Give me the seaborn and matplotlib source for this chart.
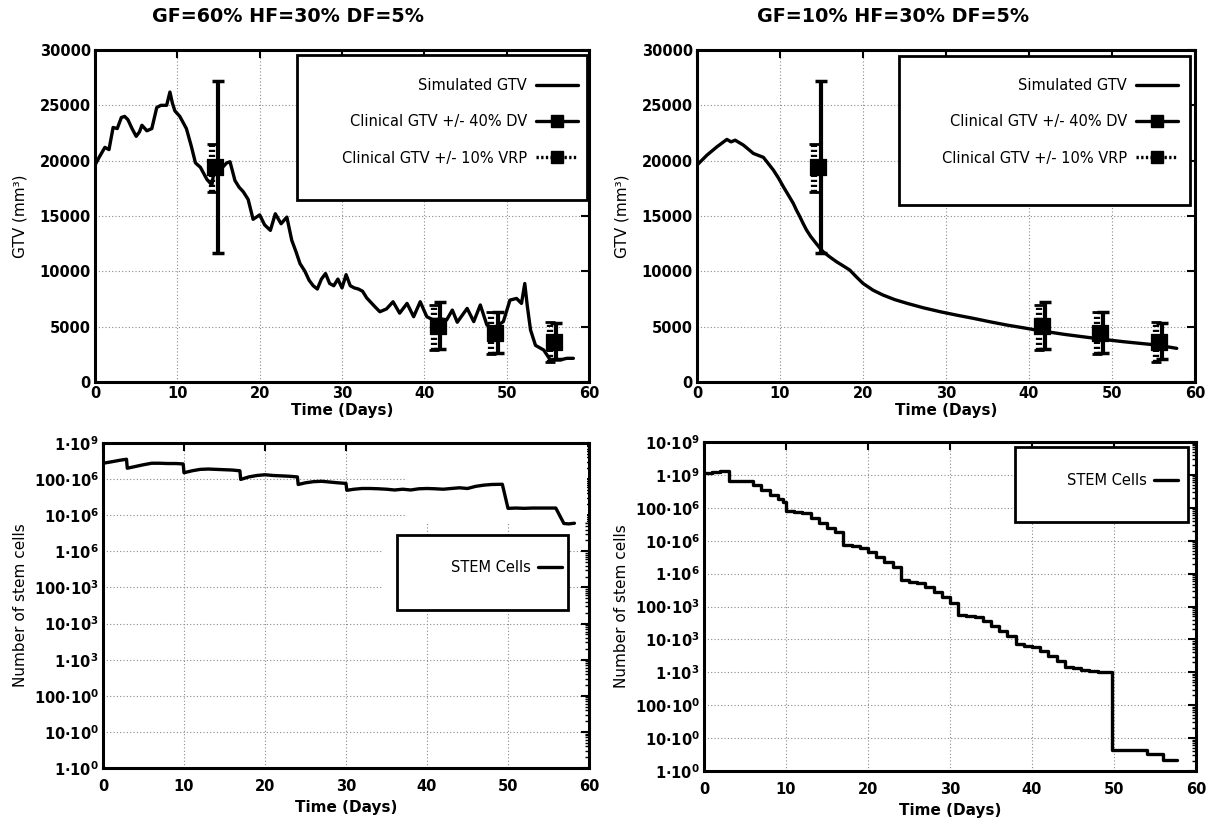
import numpy as np
import matplotlib
matplotlib.use("Agg")
import matplotlib.pyplot as plt
import seaborn as sns
from matplotlib.lines import Line2D
from matplotlib.patches import Rectangle
from matplotlib.ticker import FixedLocator, LogLocator, FuncFormatter, NullFormatter, MultipleLocator

# ---------------- data ----------------
titles = ["GF=60% HF=30% DF=5%", "GF=10% HF=30% DF=5%"]

gtv60_days = [0, 0.5, 1.2, 1.7, 2.2, 2.7, 3.2, 3.6, 4.0, 4.5, 5.0, 5.4, 5.7, 6.3, 6.9, 7.5, 8.0, 8.7,
              9.1, 9.4, 9.7, 10.3, 11.1, 11.7, 12.2, 12.8, 13.6, 14.2, 14.5, 15.0, 15.5, 16.0, 16.4,
              17.0, 17.5, 18.0, 18.6, 19.2, 20.0, 20.6, 21.3, 21.9, 22.6, 23.3, 23.9, 24.4, 24.9,
              25.5, 26.0, 26.5, 27.0, 27.5, 28.0, 28.5, 29.0, 29.5, 30.0, 30.5, 31.0, 31.5, 32.0,
              32.5, 33.0, 33.5, 34.0, 34.6, 35.4, 36.2, 37.0, 37.9, 38.7, 39.5, 40.3, 41.1, 42.0,
              42.7, 43.4, 44.0, 45.2, 46.0, 46.8, 47.6, 48.4, 49.6, 50.4, 51.2, 51.8, 52.2, 52.5,
              52.9, 53.5, 54.5, 55.3, 56.5, 57.3, 58.1]
gtv60_vals = [19600, 20300, 21200, 21000, 23000, 22900, 23900, 24000, 23700, 22900, 22200, 22600,
              23200, 22700, 22900, 24800, 25000, 25000, 26200, 25200, 24500, 24000, 22900, 21300,
              19800, 19400, 18300, 17800, 19300, 19500, 19400, 19800, 19900, 18200, 17600, 17200,
              16500, 14700, 15100, 14200, 13700, 15200, 14300, 14900, 12800, 11800, 10700, 10000,
              9200, 8700, 8400, 9300, 9800, 8900, 8700, 9300, 8500, 9700, 8700, 8500, 8400, 8200,
              7600, 7200, 6800, 6350, 6600, 7250, 6220, 7100, 5900, 7250, 5900, 5600, 5700, 5600,
              6500, 5400, 6650, 5460, 6960, 5150, 4850, 5460, 7400, 7550, 7100, 8900, 6900, 4700,
              3310, 2890, 1990, 1990, 2140, 2140]

gtv10_days = [0, 1.2, 2.4, 3.6, 4.1, 4.6, 5.6, 6.8, 8.0, 9.2, 9.8, 10.4, 11.0, 11.6, 12.0, 12.4,
              12.8, 13.2, 13.7, 14.2, 14.7, 15.2, 16.0, 16.8, 17.6, 18.4, 19.2, 20.0, 21.2, 22.4,
              23.8, 25.3, 27.3, 29.3, 31.3, 33.3, 35.3, 37.3, 39.3, 41.3, 44.3, 47.3, 49.3, 51.4,
              53.4, 55.4, 57.8]
gtv10_vals = [19600, 20500, 21250, 21920, 21700, 21850, 21400, 20650, 20300, 19150, 18450, 17650,
              16900, 16140, 15500, 14930, 14300, 13730, 13150, 12670, 12200, 11770, 11300, 10870,
              10500, 10120, 9500, 8910, 8300, 7860, 7450, 7110, 6700, 6350, 6040, 5750, 5440, 5150,
              4900, 4640, 4300, 4010, 3820, 3640, 3490, 3340, 3040]

clin_days = [14.6, 41.6, 48.6, 55.7]
clin_vals = [19400, 5100, 4400, 3650]
dv_low = [11700, 3000, 2600, 2100]
dv_high = [27200, 7200, 6300, 5300]
vrp_low = [17200, 2900, 2500, 1800]
vrp_high = [21500, 7000, 6300, 5400]

stem60_days = [0, 1, 2, 2.9, 3.0, 4, 5, 6, 7, 8, 9, 9.9, 10.0, 11, 12, 13, 14, 15, 16, 16.9, 17.0,
               18, 19, 20, 21, 22, 23, 24.0, 24.1, 25, 26, 27, 28, 29, 30.0, 30.1, 31, 32, 33, 34,
               35, 36, 37, 38, 39, 40, 41, 42, 43, 44, 45, 46, 47, 48, 49.3, 50.0, 51, 52, 53, 54,
               55, 55.9, 56.9, 57.5, 58.2]
stem60_vals = [2.75e8, 3.0e8, 3.3e8, 3.55e8, 2.0e8, 2.24e8, 2.5e8, 2.75e8, 2.75e8, 2.7e8, 2.7e8,
               2.63e8, 1.5e8, 1.7e8, 1.86e8, 1.9e8, 1.86e8, 1.82e8, 1.78e8, 1.7e8, 9.8e7, 1.15e8,
               1.26e8, 1.32e8, 1.26e8, 1.23e8, 1.2e8, 1.15e8, 7.1e7, 7.9e7, 8.5e7, 8.7e7, 8.3e7,
               7.9e7, 7.6e7, 4.9e7, 5.25e7, 5.5e7, 5.5e7, 5.4e7, 5.25e7, 5.0e7, 5.25e7, 5.0e7,
               5.4e7, 5.5e7, 5.4e7, 5.25e7, 5.5e7, 5.75e7, 5.5e7, 6.3e7, 6.8e7, 7.1e7, 7.2e7,
               1.55e7, 1.58e7, 1.55e7, 1.58e7, 1.58e7, 1.58e7, 1.58e7, 5.9e6, 5.75e6, 6.0e6]

stem10_days = [0, 1, 2, 3, 4, 5, 6, 7, 8, 9, 9.6, 10, 11, 12, 13, 14, 15, 16, 17, 18, 19, 20, 21,
               22, 23, 24, 25, 26, 27, 28, 29, 30, 31, 32, 33, 34, 35, 36, 37, 38, 39, 40, 41, 42,
               43, 44, 45, 46, 47, 48, 49.0, 49.7, 54, 56, 57.7]
stem10_vals = [1.12e9, 1.26e9, 1.32e9, 6.6e8, 6.6e8, 6.6e8, 5.0e8, 3.55e8, 2.5e8, 1.9e8, 1.5e8,
               7.9e7, 7.4e7, 7.1e7, 5.0e7, 3.55e7, 2.5e7, 1.86e7, 7.4e6, 6.8e6, 6.0e6, 4.5e6,
               3.16e6, 2.24e6, 1.58e6, 6.3e5, 5.75e5, 5.25e5, 3.8e5, 2.7e5, 1.9e5, 1.32e5, 5.6e4,
               5.25e4, 4.8e4, 3.55e4, 2.5e4, 1.78e4, 1.26e4, 7.1e3, 6.3e3, 5.9e3, 4.5e3, 3.16e3,
               2.24e3, 1.41e3, 1.32e3, 1.2e3, 1.12e3, 1.05e3, 1.0e3, 4.5, 3.2, 2.2, 2.2]

gtv_legend = ["Simulated GTV", "Clinical GTV +/- 40% DV", "Clinical GTV +/- 10% VRP"]
stem_legend = "STEM Cells"

# ---------------- style ----------------
sns.set_theme(style="white")
plt.rcParams["font.family"] = ["DejaVu Sans"]
for key in ["text.color", "axes.labelcolor", "xtick.color", "ytick.color"]:
    plt.rcParams[key] = "black"
plt.rcParams["axes.linewidth"] = 2.2
plt.rcParams["axes.edgecolor"] = "black"

W, H = 1213, 826
fig = plt.figure(figsize=(W / 100, H / 100), dpi=100)


def px_axes(x0, y0, x1, y1):
    return fig.add_axes([x0 / W, 1 - y1 / H, (x1 - x0) / W, (y1 - y0) / H])


ax_tl = px_axes(95, 50, 589, 382)
ax_tr = px_axes(697, 50, 1195, 382)
ax_bl = px_axes(103, 443, 589, 768)
ax_br = px_axes(704, 442, 1196, 771)

LW = 2.4
grid_kw = dict(color="#8a8a8a", linestyle=(0, (1, 2)), linewidth=0.8)


def base_style(ax, xpad, xlabelpad):
    ax.set_axisbelow(True)
    ax.grid(True, which="major", **grid_kw)
    ax.set_xlim(0, 60)
    ax.xaxis.set_major_locator(MultipleLocator(10))
    ax.tick_params(which="major", direction="in", length=6, width=1.5, top=True, right=True,
                   labelsize=10.5, pad=3, colors="black")
    ax.tick_params(axis="x", which="major", pad=xpad)
    ax.tick_params(which="minor", direction="in", length=3, width=1.0, top=False, right=True)
    for lbl in ax.get_xticklabels():
        lbl.set_fontweight("bold")
    ax.set_xlabel("Time (Days)", fontsize=11, fontweight="bold", labelpad=xlabelpad)
    for s in ax.spines.values():
        s.set_visible(True)
        s.set_color("black")
        s.set_linewidth(2.2)


def white_area(ax, x0, y0, x1, y1, edge=False, z=1.5):
    ax.add_patch(Rectangle((x0, y0), x1 - x0, y1 - y0, transform=ax.transAxes, facecolor="white",
                           edgecolor="black" if edge else "none", linewidth=2.0 if edge else 0,
                           zorder=z, clip_on=False))


def draw_gtv(ax, days, vals, box, anchor):
    sns.lineplot(x=days, y=vals, ax=ax, color="black", linewidth=LW, estimator=None, sort=False,
                 zorder=3)
    cd = np.array(clin_days)
    cv = np.array(clin_vals)
    ax.errorbar(cd + 0.35, cv, yerr=[cv - np.array(dv_low), np.array(dv_high) - cv],
                fmt="none", ecolor="black", elinewidth=3, capsize=4, capthick=2.5, zorder=4)
    e2 = ax.errorbar(cd - 0.45, cv, yerr=[cv - np.array(vrp_low), np.array(vrp_high) - cv],
                     fmt="none", ecolor="black", elinewidth=4.5, capsize=3.5, capthick=2, zorder=4)
    e2.lines[2][0].set_linestyle((0, (0.35, 0.45)))
    sns.scatterplot(x=clin_days, y=clin_vals, ax=ax, marker="s", s=130, color="black",
                    edgecolor="black", zorder=5, legend=False)
    ax.set_ylim(0, 30000)
    ax.yaxis.set_major_locator(MultipleLocator(5000))
    base_style(ax, 3, 1)
    for lbl in ax.get_yticklabels():
        lbl.set_fontweight("bold")
    ax.set_ylabel("GTV (mm³)", fontsize=11, labelpad=9)
    white_area(ax, *box, edge=True)
    handles = [Line2D([], [], color="black", lw=LW),
               Line2D([], [], color="black", lw=LW, marker="s", ms=8),
               Line2D([], [], color="black", lw=LW, ls=(0, (0.7, 0.7)), marker="s", ms=8)]
    ax.legend(handles, gtv_legend, loc="upper right", bbox_to_anchor=anchor, frameon=False,
              markerfirst=False, fontsize=10.5, handlelength=2.9, handletextpad=0.6,
              labelspacing=1.45, borderpad=0, borderaxespad=0)


def eng_label(v, pos):
    k = int(round(np.log10(v)))
    grp = 3 * (k // 3)
    mant = 10 ** (k % 3)
    return r"$\mathbf{%d{\cdot}10^{%d}}$" % (mant, grp)


def draw_stem(ax, days, vals, ymax, box, anchor, steps):
    ax.set_yscale("log")
    kw = dict(drawstyle="steps-post") if steps else {}
    sns.lineplot(x=days, y=vals, ax=ax, color="black", linewidth=LW, estimator=None, sort=False,
                 zorder=3, **kw)
    ax.set_ylim(1, ymax)
    decades = [10.0 ** k for k in range(0, int(round(np.log10(ymax))) + 1)]
    ax.yaxis.set_major_locator(FixedLocator(decades))
    ax.yaxis.set_minor_locator(LogLocator(base=10, subs=np.arange(2, 10), numticks=100))
    ax.yaxis.set_major_formatter(FuncFormatter(eng_label))
    ax.yaxis.set_minor_formatter(NullFormatter())
    base_style(ax, 8, 4)
    ax.set_ylabel("Number of stem cells", fontsize=11, labelpad=4)
    white_area(ax, *box, edge=True)
    ax.legend([Line2D([], [], color="black", lw=LW)], [stem_legend], loc="upper right",
              bbox_to_anchor=anchor, frameon=False, markerfirst=False, fontsize=10.5,
              handlelength=1.6, handletextpad=0.5, borderpad=0, borderaxespad=0)
    return ax


draw_gtv(ax_tl, gtv60_days, gtv60_vals, (0.409, 0.548, 0.996, 0.985), (0.978, 0.915))
draw_gtv(ax_tr, gtv10_days, gtv10_vals, (0.406, 0.533, 0.99, 0.982), (0.966, 0.915))
draw_stem(ax_bl, stem60_days, stem60_vals, 1e9, (0.605, 0.486, 0.957, 0.717), (0.944, 0.64), False)
# gnuplot-like cleared key region (grid hidden behind it)
white_area(ax_bl, 0.626, 0.757, 0.995, 0.995, z=1.2)
white_area(ax_bl, 0.574, 0.48, 0.961, 0.717, z=1.2)
draw_stem(ax_br, stem10_days, stem10_vals, 1e10, (0.632, 0.758, 0.984, 0.985), (0.963, 0.905), True)

fig.text(288 / W, 1 - 17 / H, titles[0], ha="center", va="center", fontsize=13.8, fontweight="bold")
fig.text(893 / W, 1 - 17 / H, titles[1], ha="center", va="center", fontsize=13.8, fontweight="bold")

fig.savefig("out.png", dpi=100, facecolor="white")
